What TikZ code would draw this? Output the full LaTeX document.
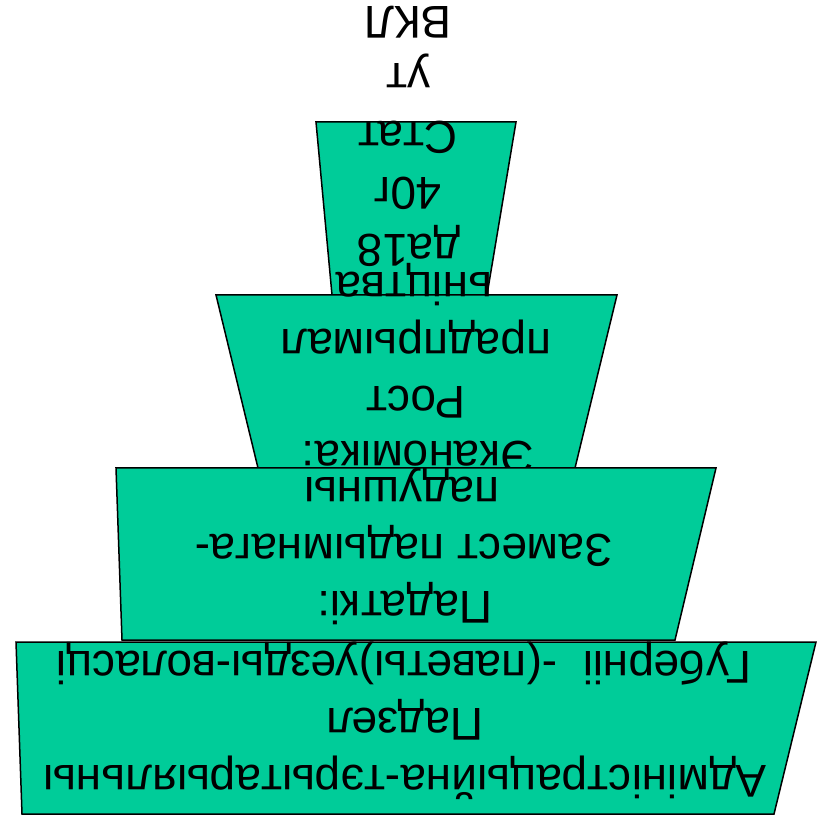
\documentclass[tikz,border=0pt]{standalone}
\usepackage{fontspec}
\setmainfont{Liberation Sans}
\definecolor{tiergreen}{RGB}{0,204,153}
\begin{document}
\begin{tikzpicture}[x=1pt,y=-1pt,
  tier/.style={draw=black,line width=1.5pt,fill=tiergreen,line join=miter},
  txt/.style={rotate=180,inner sep=0pt,font=\fontsize{46}{55}\selectfont,text height=33pt,text depth=0pt}]
\useasboundingbox (0,0) rectangle (823,818);
% top tier in image
\draw[tier] (316,122) -- (516,122) -- (487,295) -- (332,295) -- cycle;
\node[txt] (l1) at (408,23.5) {ВКЛ};
\node[txt] (l2) at (408,80.5) {ут};
\node[txt] (l3) at (408,138.5) {Стат};
\node[txt] (l4) at (408,194.5) {40г};
\node[txt] (l5) at (409,251.5) {да18};
% second tier
\draw[tier] (216,295) -- (617,295) -- (575,468) -- (258,468) -- cycle;
\node[txt] (l6) at (414,289.5) {ьніцтва};
\node[txt] (l7) at (416,346.5) {прадпрымал};
\node[txt] (l8) at (416,403.5) {Рост};
\node[txt] (l9) at (418,458.5) {Эканоміка:};
% third tier
\draw[tier] (116,468) -- (716,468) -- (675,640) -- (122,640) -- cycle;
\node[txt] (l10) at (402,494.5) {падушны};
\node[txt] (l11) at (403.5,551.5) {Замест падымнага-};
\node[txt] (l12) at (405,607.5) {Падаткі:};
% bottom tier
\draw[tier] (16,642) -- (816,642) -- (774,814) -- (22,814) -- cycle;
\node[txt] (l13) at (403.5,667.5) {Губерніі\ \ -(паветы)уезды-воласці};
\node[txt] (l14) at (405,724.5) {Падзел};
\node[txt] (l15) at (405,781.5) {Адміністрацыйна-тэрытарыяльны};
\end{tikzpicture}
\end{document}
